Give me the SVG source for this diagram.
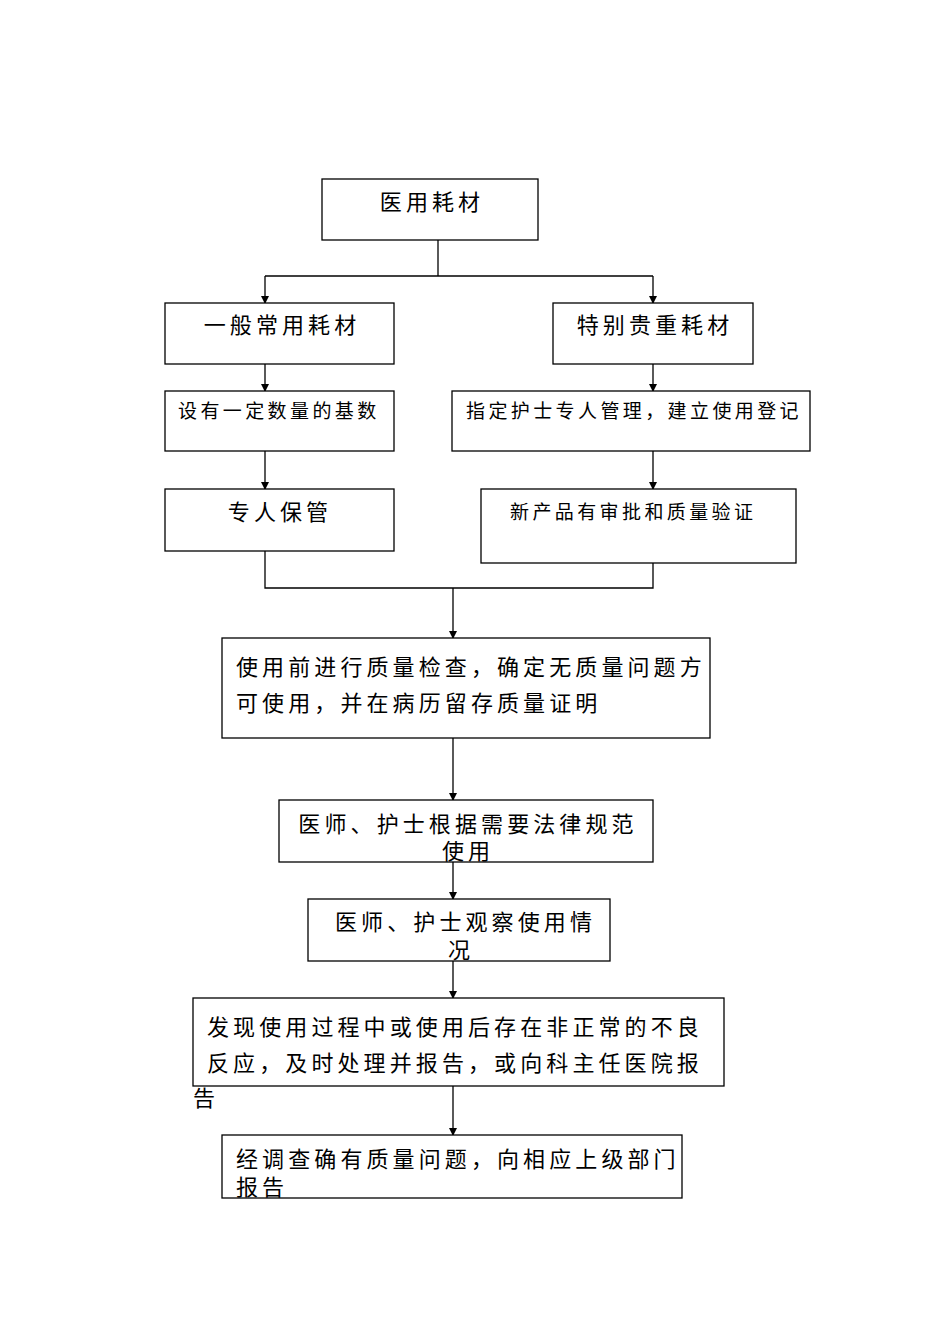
<svg xmlns="http://www.w3.org/2000/svg" width="950" height="1344" viewBox="0 0 950 1344">
<style>
rect{fill:#fff;stroke:#000;stroke-width:1.3}
text{font-family:"Noto Sans CJK SC",sans-serif;font-size:22px;letter-spacing:4.1px;fill:#000}
.s{font-size:19px;letter-spacing:3.4px}
.c{text-anchor:middle}
#conn line,#conn polyline{stroke:#000;stroke-width:1.3;fill:none}
</style>
<defs><marker id="a" markerWidth="8" markerHeight="8" refX="7" refY="4" orient="auto" markerUnits="userSpaceOnUse"><path d="M0,0L8,4L0,8Z" fill="#000"/></marker></defs>
<rect width="950" height="1344" style="stroke:none"/>
<g id="conn">
<polyline points="438,240 438,276"/>
<polyline points="265,276 653,276"/>
<line x1="265" y1="276" x2="265" y2="303" marker-end="url(#a)"/>
<line x1="653" y1="276" x2="653" y2="303" marker-end="url(#a)"/>
<line x1="265" y1="364" x2="265" y2="391" marker-end="url(#a)"/>
<line x1="653" y1="364" x2="653" y2="391" marker-end="url(#a)"/>
<line x1="265" y1="451" x2="265" y2="489" marker-end="url(#a)"/>
<line x1="653" y1="451" x2="653" y2="489" marker-end="url(#a)"/>
<polyline points="265,551 265,588 653,588 653,563"/>
<line x1="453" y1="588" x2="453" y2="638" marker-end="url(#a)"/>
<line x1="453" y1="738" x2="453" y2="800" marker-end="url(#a)"/>
<line x1="453" y1="862" x2="453" y2="899" marker-end="url(#a)"/>
<line x1="453" y1="961" x2="453" y2="998" marker-end="url(#a)"/>
<line x1="453" y1="1086" x2="453" y2="1135" marker-end="url(#a)"/>
</g>
<g id="n1"><rect x="322" y="179" width="216" height="61"/><text x="432" y="210" class="c">医用耗材</text></g>
<g id="n2"><rect x="165" y="303" width="229" height="61"/><text x="282" y="333" class="c">一般常用耗材</text></g>
<g id="n3"><rect x="553" y="303" width="200" height="61"/><text x="655" y="333" class="c">特别贵重耗材</text></g>
<g id="n4"><rect x="165" y="391" width="229" height="60"/><text x="178" y="418" class="s">设有一定数量的基数</text></g>
<g id="n5"><rect x="452" y="391" width="358" height="60"/><text x="466" y="418" class="s">指定护士专人管理，建立使用登记</text></g>
<g id="n6"><rect x="165" y="489" width="229" height="62"/><text x="280" y="520" class="c">专人保管</text></g>
<g id="n7"><rect x="481" y="489" width="315" height="74"/><text x="510" y="519" class="s">新产品有审批和质量验证</text></g>
<g id="n8"><rect x="222" y="638" width="488" height="100"/><text x="236" y="675">使用前进行质量检查，确定无质量问题方</text><text x="236" y="711">可使用，并在病历留存质量证明</text></g>
<g id="n9"><rect x="279" y="800" width="374" height="62"/><text x="468" y="832" class="c">医师、护士根据需要法律规范</text><text x="468" y="859" class="c">使用</text></g>
<g id="n10"><rect x="308" y="899" width="302" height="62"/><text x="335" y="930">医师、护士观察使用情</text><text x="448" y="958">况</text></g>
<g id="n11"><rect x="193" y="998" width="531" height="88"/><text x="207" y="1035">发现使用过程中或使用后存在非正常的不良</text><text x="207" y="1071">反应，及时处理并报告，或向科主任医院报</text><text x="193" y="1106">告</text></g>
<g id="n12"><rect x="222" y="1135" width="460" height="63"/><text x="236" y="1167">经调查确有质量问题，向相应上级部门</text><text x="236" y="1195">报告</text></g>
</svg>
